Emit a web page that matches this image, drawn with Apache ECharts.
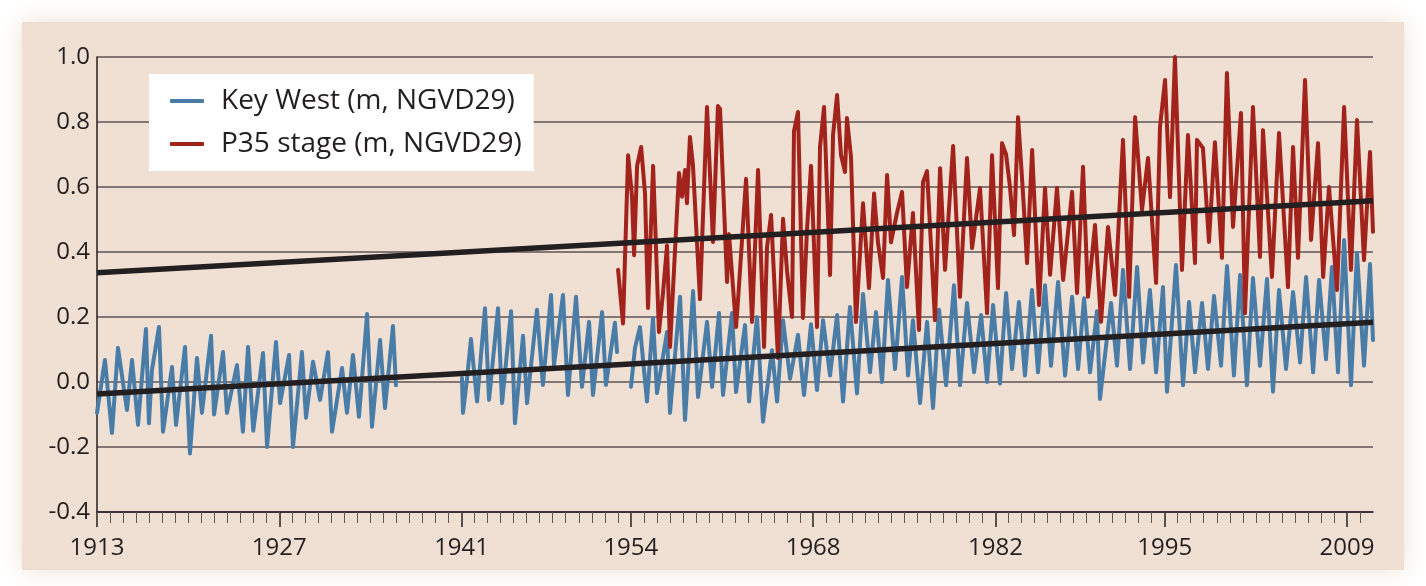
<!DOCTYPE html>
<html>
<head>
<meta charset="utf-8">
<script src="https://cdn.jsdelivr.net/npm/echarts@6/dist/echarts.min.js"></script>
<style>
html,body{margin:0;padding:0;background:#ffffff;}
#chart{width:1426px;height:586px;}
</style>
</head>
<body>
<div id="chart"></div>
<script>
// ---------- DATA ----------
const seriesNames = ['Key West (m, NGVD29)', 'P35 stage (m, NGVD29)'];
const majorYears = [1913, 1927, 1941, 1954, 1968, 1982, 1995, 2009];
const yTicks = [-0.4, -0.2, 0.0, 0.2, 0.4, 0.6, 0.8, 1.0];

// Key West monthly mean sea level (peaks / troughs); '-' = gap
const keyWest = [
  [1913.00,-0.095],[1913.61,0.068],[1914.15,-0.157],[1914.61,0.105],[1915.30,-0.086],[1915.69,0.068],
  [1916.15,-0.132],[1916.76,0.163],[1916.99,-0.127],[1917.22,0.037],[1917.76,0.169],[1918.07,-0.153],
  [1918.76,0.046],[1919.07,-0.132],[1919.76,0.108],[1920.14,-0.22],[1920.68,0.074],[1921.06,-0.095],
  [1921.76,0.142],[1921.99,-0.10],[1922.68,0.092],[1922.98,-0.095],[1923.75,0.052],[1924.21,-0.153],
  [1924.60,0.108],[1925.00,-0.15],[1925.75,0.089],[1926.06,-0.20],[1926.75,0.123],[1927.06,-0.065],
  [1927.75,0.083],[1928.05,-0.20],[1928.74,0.092],[1929.05,-0.11],[1929.59,0.062],[1930.13,-0.055],
  [1930.74,0.092],[1931.05,-0.153],[1931.82,0.043],[1932.20,-0.095],[1932.66,0.083],[1933.12,-0.107],
  [1933.74,0.209],[1934.12,-0.138],[1934.74,0.129],[1935.12,-0.08],[1935.73,0.172],[1935.96,-0.01],
  [1938.5,'-'],
  [1941.03,0.012],[1941.11,-0.095],[1941.42,0.01],[1941.72,0.132],[1942.19,-0.06],[1942.80,0.227],
  [1943.11,-0.055],[1943.80,0.227],[1944.11,-0.065],[1944.80,0.218],[1945.10,-0.127],[1945.72,0.142],
  [1946.03,-0.065],[1946.79,0.222],[1947.25,-0.009],[1947.87,0.268],[1948.10,0.052],[1948.79,0.268],
  [1949.17,-0.04],[1949.79,0.262],[1950.25,-0.015],[1950.79,0.185],[1951.09,-0.04],[1951.79,0.215],
  [1952.09,-0.009],[1952.78,0.182],[1952.94,0.092],
  [1953.5,'-'],
  [1954.01,-0.015],[1954.32,0.105],[1954.70,0.169],[1955.24,-0.06],[1955.70,0.197],[1956.01,-0.034],
  [1956.78,0.154],[1957.01,-0.095],[1957.78,0.262],[1958.16,-0.117],[1958.78,0.28],[1959.16,-0.046],
  [1959.85,0.185],[1960.24,-0.015],[1960.77,0.212],[1961.08,-0.04],[1961.77,0.212],[1962.08,-0.031],
  [1962.77,0.175],[1963.08,-0.06],[1963.69,0.2],[1964.15,-0.122],[1964.84,0.098],[1965.23,-0.06],
  [1965.69,0.19],[1966.23,0.01],[1966.84,0.145],[1967.30,-0.04],[1967.84,0.178],[1968.30,-0.025],
  [1968.76,0.19],[1969.30,0.02],[1969.84,0.206],[1970.30,-0.06],[1970.83,0.231],[1971.37,-0.035],
  [1971.83,0.271],[1972.37,0.03],[1972.83,0.215],[1973.29,0.0],[1973.75,0.314],[1974.29,0.04],
  [1974.83,0.323],[1975.29,0.02],[1975.67,0.19],[1976.21,-0.065],[1976.75,0.185],[1977.21,-0.08],
  [1977.67,0.222],[1978.21,-0.01],[1978.82,0.298],[1979.28,-0.01],[1979.82,0.243],[1980.36,0.03],
  [1980.90,0.206],[1981.36,0.0],[1981.82,0.237],[1982.35,-0.005],[1982.82,0.274],[1983.28,0.04],
  [1983.81,0.246],[1984.27,0.02],[1984.81,0.283],[1985.27,0.03],[1985.81,0.298],[1986.27,0.05],
  [1986.81,0.308],[1987.35,0.02],[1987.89,0.262],[1988.35,0.04],[1988.81,0.258],[1989.27,0.03],
  [1989.80,0.218],[1990.03,-0.052],[1990.88,0.243],[1991.34,0.05],[1991.80,0.345],[1992.34,0.04],
  [1992.88,0.354],[1993.34,0.06],[1993.87,0.283],[1994.34,0.03],[1994.87,0.292],[1995.18,-0.03],
  [1995.87,0.36],[1996.41,-0.01],[1996.87,0.246],[1997.33,0.03],[1997.87,0.243],[1998.33,0.04],
  [1998.79,0.265],[1999.33,0.05],[1999.79,0.357],[2000.32,0.02],[2000.79,0.329],[2001.32,-0.01],
  [2001.78,0.32],[2002.32,0.05],[2002.86,0.317],[2003.32,-0.03],[2003.78,0.283],[2004.32,0.04],
  [2004.86,0.277],[2005.40,0.06],[2005.86,0.323],[2006.40,0.03],[2006.86,0.314],[2007.39,0.07],
  [2007.85,0.354],[2008.31,0.03],[2008.78,0.437],[2009.31,-0.01],[2009.77,0.397],[2010.31,0.05],
  [2010.77,0.363],[2011.00,0.129]
];

// P35 stage (peaks / troughs)
const p35 = [
  [1953.02,0.345],[1953.40,0.18],[1953.79,0.698],[1954.09,0.57],[1954.25,0.39],[1954.48,0.665],
  [1954.79,0.723],[1955.09,0.58],[1955.32,0.228],[1955.71,0.665],[1956.16,0.154],[1956.47,0.274],
  [1956.78,0.42],[1957.01,0.108],[1957.70,0.643],[1957.93,0.57],[1958.16,0.652],[1958.31,0.55],
  [1958.54,0.754],[1958.77,0.668],[1959.31,0.255],[1959.85,0.846],[1960.31,0.431],[1960.69,0.849],
  [1960.85,0.84],[1961.39,0.308],[1961.54,0.455],[1962.08,0.169],[1962.23,0.25],[1962.85,0.625],
  [1963.31,0.185],[1963.77,0.652],[1964.23,0.108],[1964.46,0.415],[1964.77,0.514],[1965.30,0.074],
  [1965.69,0.502],[1966.00,0.34],[1966.38,0.2],[1966.53,0.772],[1966.84,0.831],[1967.22,0.197],
  [1967.53,0.468],[1967.84,0.665],[1968.30,0.169],[1968.53,0.723],[1968.84,0.846],[1969.30,0.329],
  [1969.53,0.76],[1969.84,0.883],[1970.14,0.698],[1970.45,0.646],[1970.60,0.812],[1970.91,0.692],
  [1971.29,0.185],[1971.83,0.55],[1972.29,0.289],[1972.68,0.58],[1972.98,0.43],[1973.37,0.32],
  [1973.68,0.637],[1973.98,0.43],[1974.44,0.52],[1974.83,0.585],[1975.21,0.292],[1975.67,0.52],
  [1976.13,0.16],[1976.44,0.615],[1976.75,0.649],[1977.36,0.19],[1977.75,0.658],[1978.13,0.345],
  [1978.75,0.726],[1979.28,0.262],[1979.82,0.689],[1980.21,0.412],[1980.82,0.597],[1981.36,0.212],
  [1981.74,0.698],[1982.20,0.289],[1982.51,0.735],[1982.82,0.70],[1983.12,0.60],[1983.43,0.452],
  [1983.74,0.815],[1984.12,0.58],[1984.43,0.366],[1984.82,0.714],[1985.35,0.237],[1985.81,0.597],
  [1986.20,0.33],[1986.73,0.597],[1987.20,0.314],[1987.89,0.585],[1988.27,0.274],[1988.73,0.662],
  [1989.11,0.262],[1989.65,0.483],[1990.11,0.185],[1990.65,0.477],[1991.19,0.268],[1991.80,0.745],
  [1992.27,0.262],[1992.73,0.815],[1993.26,0.529],[1993.72,0.689],[1994.34,0.305],[1994.64,0.785],
  [1995.03,0.929],[1995.41,0.569],[1995.79,1.0],[1996.33,0.345],[1996.79,0.76],[1997.33,0.366],
  [1997.48,0.745],[1997.94,0.72],[1998.40,0.431],[1998.86,0.738],[1999.40,0.382],[1999.78,0.951],
  [2000.25,0.477],[2000.86,0.828],[2001.17,0.212],[2001.78,0.846],[2002.32,0.385],[2002.55,0.775],
  [2003.24,0.323],[2003.78,0.766],[2004.47,0.292],[2004.86,0.723],[2005.24,0.382],[2005.78,0.929],
  [2006.24,0.437],[2006.78,0.735],[2007.17,0.323],[2007.62,0.6],[2008.24,0.283],[2008.78,0.846],
  [2009.31,0.345],[2009.77,0.806],[2010.31,0.375],[2010.77,0.708],[2011.00,0.462]
];

// Linear trend lines (end points)
const kwTrend = [[1913, -0.037], [2011, 0.184]];
const p35Trend = [[1913, 0.336], [2011, 0.558]];

// ---------- CHART ----------
const ink = '#231f20';
const gridCol = '#5e5552';
const blue = '#4a7ca8';
const red = '#a2231b';
const fontFam = '"Open Sans", "Noto Sans", sans-serif';

const minorYears = [];
for (let y = 1913; y <= 2010; y++) minorYears.push(y);

const chart = echarts.init(document.getElementById('chart'), null, {renderer: 'canvas'});
chart.setOption({
  backgroundColor: '#ffffff',
  animation: false,
  graphic: [{
    type: 'rect',
    z: -10,
    silent: true,
    shape: {x: 22, y: 22, width: 1382, height: 548},
    style: {fill: '#efe0d3', shadowBlur: 22, shadowColor: '#efe0d3'}
  }],
  textStyle: {fontFamily: fontFam},
  grid: {left: 97, right: 53, top: 57, bottom: 74, containLabel: false},
  legend: {
    data: seriesNames,
    left: 149, top: 74,
    orient: 'vertical',
    backgroundColor: '#ffffff',
    padding: [12, 12, 12, 21],
    itemGap: 13,
    itemWidth: 34, itemHeight: 4,
    icon: 'roundRect',
    selectedMode: false,
    textStyle: {fontFamily: fontFam, fontSize: 28, color: ink, lineHeight: 30, padding: [0, 0, 0, 12]}
  },
  xAxis: [{
    type: 'value', min: 1913, max: 2011,
    position: 'bottom', offset: 0,
    splitLine: {show: false},
    axisLine: {show: true, onZero: false, lineStyle: {color: ink, width: 1.5}},
    axisTick: {show: true, customValues: majorYears, length: 15, lineStyle: {color: ink, width: 1.5}},
    axisLabel: {show: true, customValues: majorYears, margin: 24, fontSize: 24, color: ink, fontFamily: fontFam,
      formatter: v => String(v)}
  }, {
    type: 'value', min: 1913, max: 2011,
    position: 'bottom', offset: 0,
    splitLine: {show: false},
    axisLine: {show: false, onZero: false},
    axisTick: {show: true, customValues: minorYears, length: 11, lineStyle: {color: gridCol, width: 1}},
    axisLabel: {show: false}
  }],
  yAxis: {
    type: 'value', min: -0.4, max: 1.0, interval: 0.2,
    axisLine: {show: true, onZero: false, lineStyle: {color: ink, width: 1.5}},
    axisTick: {show: false},
    splitLine: {show: true, lineStyle: {color: gridCol, width: 1.5}},
    axisLabel: {margin: 7, fontSize: 24, color: ink, fontFamily: fontFam,
      formatter: v => v.toFixed(1)}
  },
  series: [
    {name: seriesNames[0], type: 'line', data: keyWest, showSymbol: false, connectNulls: false,
     color: blue, lineStyle: {color: blue, width: 4, join: 'round', cap: 'round'}, z: 2},
    {name: seriesNames[1], type: 'line', data: p35, showSymbol: false,
     color: red, lineStyle: {color: red, width: 4, join: 'round', cap: 'round'}, z: 3},
    {name: 'kwTrend', type: 'line', data: kwTrend, showSymbol: false, silent: true,
     lineStyle: {color: ink, width: 5.5}, z: 4},
    {name: 'p35Trend', type: 'line', data: p35Trend, showSymbol: false, silent: true,
     lineStyle: {color: ink, width: 5.5}, z: 4}
  ]
});
</script>
</body>
</html>
